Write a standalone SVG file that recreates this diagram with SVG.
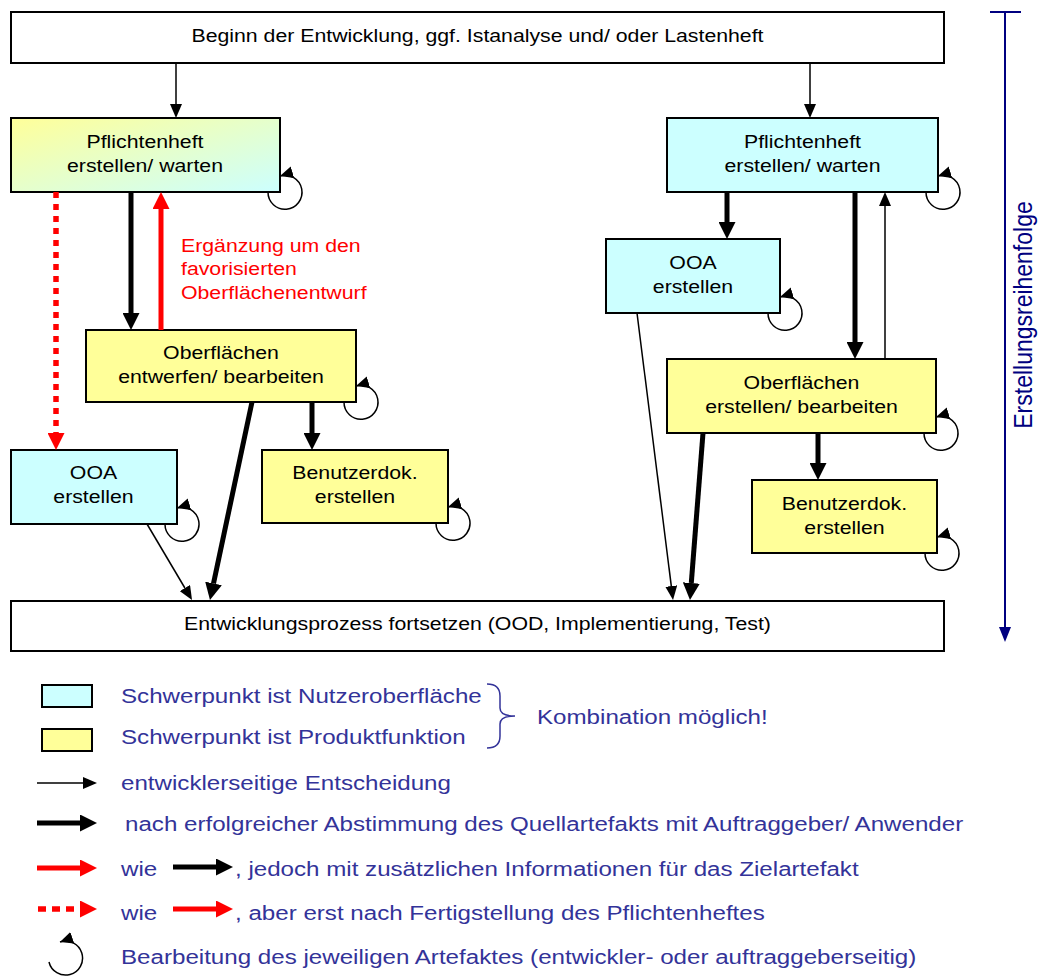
<svg xmlns="http://www.w3.org/2000/svg" width="1039" height="976" viewBox="0 0 1039 976">
<style>
.box{stroke:#000;stroke-width:2}
.w{fill:#fff}.c{fill:#CCFFFF}.y{fill:#FFFF99}
.t{font-family:"Liberation Sans",Arial,sans-serif;font-size:18.5px;fill:#000;text-anchor:middle}
.rt{font-family:"Liberation Sans",Arial,sans-serif;font-size:18.5px;fill:#FF0000}
.lg{font-family:"Liberation Sans",Arial,sans-serif;font-size:21px;fill:#333399}
.ax{font-family:"Liberation Sans",Arial,sans-serif;font-size:23px;fill:#000080;text-anchor:middle}
.thin{stroke:#000;stroke-width:1.5;fill:none;marker-end:url(#hThin)}
.thick{stroke:#000;stroke-width:5;fill:none;marker-end:url(#hThick)}
.red{stroke:#FF0000;stroke-width:5;fill:none;marker-end:url(#hRed)}
.dot{stroke:#FF0000;stroke-width:5.5;fill:none;stroke-dasharray:6 6;marker-end:url(#hRed)}
.loop{stroke:#000;stroke-width:1.5;fill:none;marker-end:url(#hLoop)}
</style>
<defs>
<linearGradient id="g1" x1="0" y1="0" x2="1" y2="1">
<stop offset="0" stop-color="#FFFF99"/>
<stop offset="1" stop-color="#CCFFFF"/>
</linearGradient>
<marker id="hThin" markerUnits="userSpaceOnUse" viewBox="0 0 14 12" markerWidth="14" markerHeight="12" refX="0" refY="6" orient="auto"><path d="M0,0 L14,6 L0,12 z" fill="#000"/></marker>
<marker id="hThick" markerUnits="userSpaceOnUse" viewBox="0 0 17 17" markerWidth="17" markerHeight="17" refX="0" refY="8.5" orient="auto"><path d="M0,0 L17,8.5 L0,17 z" fill="#000"/></marker>
<marker id="hRed" markerUnits="userSpaceOnUse" viewBox="0 0 17 17" markerWidth="17" markerHeight="17" refX="0" refY="8.5" orient="auto"><path d="M0,0 L17,8.5 L0,17 z" fill="#FF0000"/></marker>
<marker id="hLoop" markerUnits="userSpaceOnUse" viewBox="0 0 13 12" markerWidth="13" markerHeight="12" refX="13" refY="6" orient="auto"><path d="M0,0 L13,6 L0,12 z" fill="#000"/></marker>
<marker id="hNavy" markerUnits="userSpaceOnUse" viewBox="0 0 15 12" markerWidth="15" markerHeight="12" refX="0" refY="6" orient="auto"><path d="M0,0 L15,6 L0,12 z" fill="#000080"/></marker>
</defs>

<g id="nodes">
<g id="start"><rect class="box w" x="11" y="12" width="933" height="51"/>
<text class="t" transform="translate(477.5,42) scale(1.15,1)">Beginn der Entwicklung, ggf. Istanalyse und/ oder Lastenheft</text></g>
<g id="pflichtenheft-links"><rect class="box" fill="url(#g1)" x="11" y="118" width="269" height="74"/>
<text class="t" transform="translate(145,148) scale(1.15,1)">Pflichtenheft<tspan x="0" dy="24">erstellen/ warten</tspan></text></g>
<g id="oberflaechen-links"><rect class="box y" x="86" y="330" width="270" height="72"/>
<text class="t" transform="translate(221,359) scale(1.15,1)">Oberflächen<tspan x="0" dy="24">entwerfen/ bearbeiten</tspan></text></g>
<g id="ooa-links"><rect class="box c" x="11" y="450" width="166" height="74"/>
<text class="t" transform="translate(93.5,479) scale(1.15,1)">OOA<tspan x="0" dy="24">erstellen</tspan></text></g>
<g id="benutzerdok-links"><rect class="box y" x="262" y="450" width="186" height="73"/>
<text class="t" transform="translate(355,479) scale(1.15,1)">Benutzerdok.<tspan x="0" dy="24">erstellen</tspan></text></g>
<g id="pflichtenheft-rechts"><rect class="box c" x="667" y="118" width="271" height="74"/>
<text class="t" transform="translate(802.5,148) scale(1.15,1)">Pflichtenheft<tspan x="0" dy="24">erstellen/ warten</tspan></text></g>
<g id="ooa-rechts"><rect class="box c" x="606" y="239" width="174" height="74"/>
<text class="t" transform="translate(693,269) scale(1.15,1)">OOA<tspan x="0" dy="24">erstellen</tspan></text></g>
<g id="oberflaechen-rechts"><rect class="box y" x="667" y="359" width="269" height="74"/>
<text class="t" transform="translate(801.5,389) scale(1.15,1)">Oberflächen<tspan x="0" dy="24">erstellen/ bearbeiten</tspan></text></g>
<g id="benutzerdok-rechts"><rect class="box y" x="752" y="480" width="185" height="73"/>
<text class="t" transform="translate(844.5,510) scale(1.15,1)">Benutzerdok.<tspan x="0" dy="24">erstellen</tspan></text></g>
<g id="fortsetzen"><rect class="box w" x="11" y="601" width="933" height="50"/>
<text class="t" transform="translate(477.5,630) scale(1.15,1)">Entwicklungsprozess fortsetzen (OOD, Implementierung, Test)</text></g>
</g>

<g id="connectors">
<line class="thin" x1="176" y1="63" x2="176" y2="104"/>
<line class="thin" x1="810" y1="63" x2="810" y2="104"/>
<line class="thin" x1="885" y1="359" x2="885" y2="206"/>
<line class="thin" x1="147" y1="524" x2="184.9" y2="588"/>
<line class="thin" x1="637" y1="313" x2="671.3" y2="586.1"/>
<line class="thick" x1="131" y1="192" x2="131" y2="313"/>
<line class="thick" x1="312" y1="402" x2="312" y2="433"/>
<line class="thick" x1="252" y1="402" x2="213.5" y2="583.4"/>
<line class="thick" x1="727" y1="192" x2="727" y2="222"/>
<line class="thick" x1="855" y1="192" x2="855" y2="342"/>
<line class="thick" x1="818" y1="433" x2="818" y2="463"/>
<line class="thick" x1="703" y1="433" x2="691.3" y2="583"/>
<line class="red" x1="161" y1="330" x2="161" y2="209"/>
<line class="dot" x1="56" y1="192" x2="56" y2="433"/>
<path class="loop" d="M268,192 A17 17 0 1 0 280,176"/>
<path class="loop" d="M344,402 A17 17 0 1 0 356,386"/>
<path class="loop" d="M165,524 A17 17 0 1 0 177,508"/>
<path class="loop" d="M436,523 A17 17 0 1 0 448,507"/>
<path class="loop" d="M926,192 A17 17 0 1 0 938,176"/>
<path class="loop" d="M768,313 A17 17 0 1 0 780,297"/>
<path class="loop" d="M924,433 A17 17 0 1 0 936,417"/>
<path class="loop" d="M925,553 A17 17 0 1 0 937,537"/>
</g>

<g id="label-rot">
<text class="rt" transform="translate(181,252) scale(1.15,1)">Ergänzung um den<tspan x="0" dy="23.5">favorisierten</tspan><tspan x="0" dy="23.5">Oberflächenentwurf</tspan></text>
</g>

<g id="achse">
<line x1="990" y1="12" x2="1021" y2="12" stroke="#000080" stroke-width="2"/>
<line x1="1005" y1="12" x2="1005" y2="627" stroke="#000080" stroke-width="2" marker-end="url(#hNavy)"/>
<text class="ax" transform="translate(1032,315) rotate(-90) scale(1,1.15)">Erstellungsreihenfolge</text>
</g>

<g id="legende">
<rect class="box c" x="42" y="685" width="50" height="22"/>
<rect class="box y" x="42" y="729" width="50" height="22"/>
<text class="lg" transform="translate(121,703) scale(1.15,1)">Schwerpunkt ist Nutzeroberfläche</text>
<text class="lg" transform="translate(121,744) scale(1.15,1)">Schwerpunkt ist Produktfunktion</text>
<path d="M487,684 Q500,684 500,696 L500,708 Q500,716 515,716 Q500,716 500,724 L500,736 Q500,748 487,748" fill="none" stroke="#333399" stroke-width="1.5"/>
<text class="lg" transform="translate(537,724) scale(1.15,1)">Kombination möglich!</text>
<line class="thin" x1="37" y1="783" x2="83" y2="783"/>
<text class="lg" transform="translate(121,790) scale(1.15,1)">entwicklerseitige Entscheidung</text>
<line class="thick" x1="37" y1="823" x2="80" y2="823"/>
<text class="lg" transform="translate(125,831) scale(1.15,1)">nach erfolgreicher Abstimmung des Quellartefakts mit Auftraggeber/ Anwender</text>
<line class="red" x1="37" y1="868" x2="80" y2="868"/>
<text class="lg" transform="translate(121,876) scale(1.15,1)">wie</text>
<line class="thick" x1="173" y1="867" x2="216" y2="867"/>
<text class="lg" transform="translate(235,876) scale(1.15,1)">, jedoch mit zusätzlichen Informationen für das Zielartefakt</text>
<line class="dot" x1="38" y1="909" x2="80" y2="909" style="stroke-dasharray:8 6"/>
<text class="lg" transform="translate(121,920) scale(1.15,1)">wie</text>
<line class="red" x1="173" y1="909" x2="216" y2="909"/>
<text class="lg" transform="translate(235,920) scale(1.15,1)">, aber erst nach Fertigstellung des Pflichtenheftes</text>
<path class="loop" d="M49,962 A17 17 0 1 0 60,942"/>
<text class="lg" transform="translate(121,964) scale(1.15,1)">Bearbeitung des jeweiligen Artefaktes (entwickler- oder auftraggeberseitig)</text>
</g>
</svg>
